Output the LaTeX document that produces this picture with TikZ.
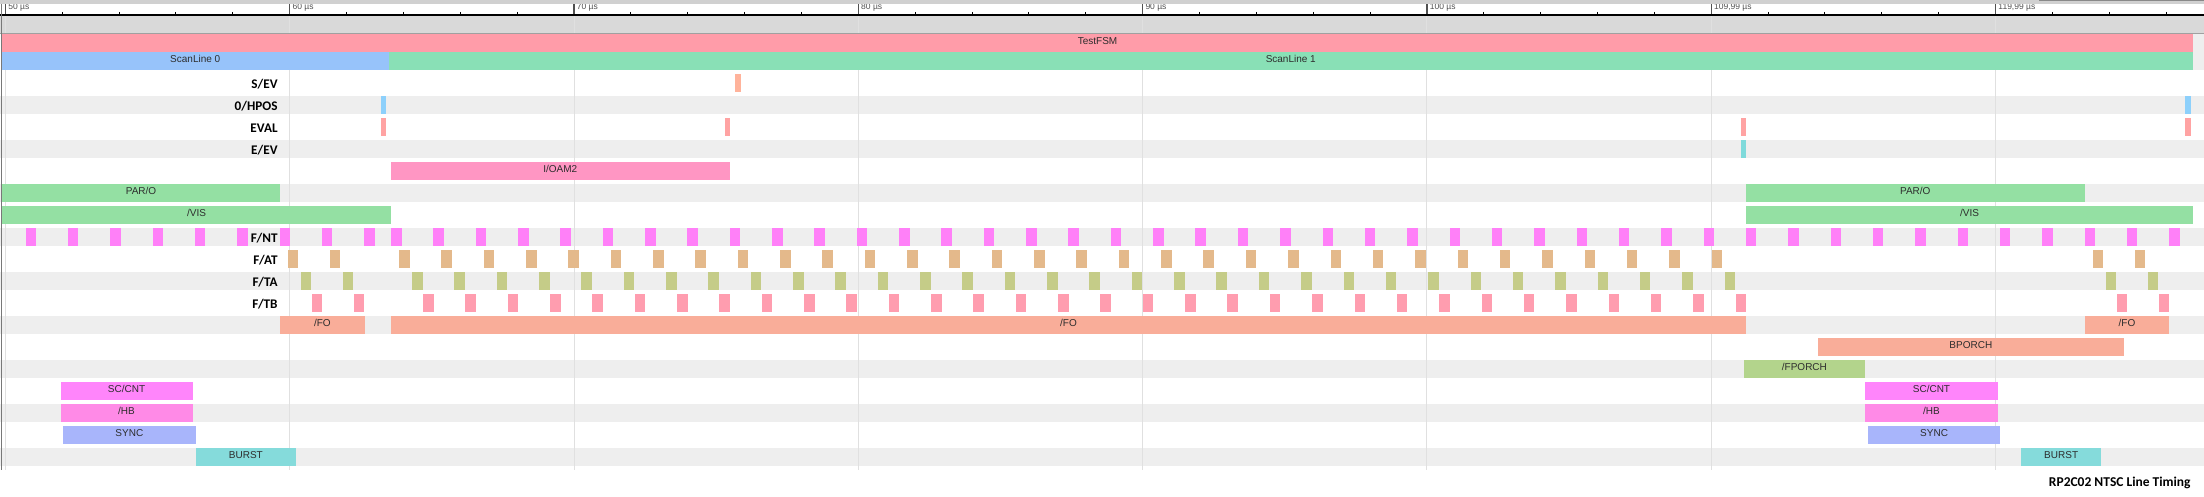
\documentclass[tikz,border=0pt]{standalone}
\usepackage{fontspec}
\usepackage{tikz}
\usetikzlibrary{positioning}
\newfontfamily\rowfont{Carlito}
\newfontfamily\barfont{Liberation Sans}
\definecolor{TopGray}{RGB}{208,208,208}
\definecolor{ScrollGray}{RGB}{136,136,136}
\definecolor{HeadGray}{RGB}{217,217,217}
\definecolor{HeadLine}{RGB}{160,160,160}
\definecolor{GridGray}{RGB}{224,224,224}
\definecolor{Stripe}{RGB}{238,238,238}
\definecolor{BorderGray}{RGB}{120,120,120}
\definecolor{TickText}{RGB}{80,80,80}
\definecolor{BarText}{RGB}{45,45,45}
\definecolor{FsmPink}{RGB}{255,156,169}
\definecolor{LineBlue}{RGB}{151,195,250}
\definecolor{LineGreen}{RGB}{137,224,182}
\definecolor{SevOrange}{RGB}{255,179,155}
\definecolor{HposBlue}{RGB}{141,208,251}
\definecolor{EvalRed}{RGB}{255,163,163}
\definecolor{EevCyan}{RGB}{127,218,219}
\definecolor{OamPink}{RGB}{255,150,195}
\definecolor{VisGreen}{RGB}{148,224,163}
\definecolor{NtMagenta}{RGB}{255,128,248}
\definecolor{AtTan}{RGB}{228,185,139}
\definecolor{TaOlive}{RGB}{197,204,136}
\definecolor{TbPink}{RGB}{255,157,175}
\definecolor{FoSalmon}{RGB}{249,173,153}
\definecolor{PorchGreen}{RGB}{179,212,140}
\definecolor{CntMagenta}{RGB}{255,133,251}
\definecolor{HbMagenta}{RGB}{255,138,231}
\definecolor{SyncBlue}{RGB}{168,181,251}
\definecolor{BurstCyan}{RGB}{133,219,219}
\tikzset{
  bartext/.style={font=\barfont\fontsize{5}{6}\selectfont, text=BarText, inner sep=0pt, anchor=base},
  rowlabel/.style={font=\rowfont\bfseries\fontsize{6.6}{8}\selectfont, inner sep=0pt, anchor=base east},
  ticklabel/.style={font=\barfont\fontsize{4.25}{5}\selectfont, text=TickText, inner sep=0pt, anchor=base west},
  gridline/.style={draw=GridGray, line width=0.5pt},
}
% bar with centred label: x1, x2, top, colour, name, text
\newcommand\sigbar[6]{%
  \fill[#4] (#1,#3) rectangle (#2,#3+18);
  \node[bartext] (#5) at ({(#1+#2)/2},#3+10.7) {#6};}
\begin{document}
\begin{tikzpicture}[x=0.5pt, y=-0.5pt]
\useasboundingbox (0,0) rectangle (2204,497);
\fill[white] (0,0) rectangle (2204,497);

% row stripes
\foreach \i in {1,3,...,17}
  \fill[Stripe] (0,74+22*\i) rectangle (2204,92+22*\i);
\fill[Stripe] (2193,33) rectangle (2204,70);
\fill[HeadGray] (0,15) rectangle (2204,33.3);

% grid
\foreach \i in {0,...,7}
  \draw[gridline] (5.4+284.3*\i,15) -- (5.4+284.3*\i,470);

% ruler
\fill[white] (0,4) rectangle (2204,15);
\foreach \i/\t in {0/50,1/60,2/70,3/80,4/90,5/100,6/{109,99},7/{119,99}}{
  \node[ticklabel] (tick\i) at (5.4+284.3*\i+2.5,9.6) {\t~µs};
  \draw[TickText, line width=0.6pt] (5.4+284.3*\i,4) -- (5.4+284.3*\i,15);
  \foreach \j in {1,...,4}
    \draw[black, line width=0.5pt] (5.4+284.3*\i+56.86*\j,12) -- (5.4+284.3*\i+56.86*\j,15);
}
\fill[TopGray] (0,0) rectangle (2204,4);
\fill[ScrollGray] (2039,0) rectangle (2204,1.5);
\draw[black, line width=0.6pt] (0,15) -- (2204,15);
\draw[HeadLine, line width=0.6pt] (0,33.3) -- (2204,33.3);
\draw[BorderGray, line width=0.6pt] (1.5,4) -- (1.5,470);

% state machine and scan lines
\sigbar{2}{2193}{33.6}{FsmPink}{fsm}{TestFSM}
\sigbar{2}{388.5}{51.8}{LineBlue}{line0}{ScanLine 0}
\sigbar{388.5}{2193}{51.8}{LineGreen}{line1}{ScanLine 1}

% single pulses
\fill[SevOrange] (734.8,74) rectangle (740.6,92);
\fill[HposBlue] (381,96) rectangle (386,114);
\fill[HposBlue] (2185.3,96) rectangle (2190.7,114);
\foreach \x in {381,724.5,1741,2185.3}
  \fill[EvalRed] (\x,118) rectangle ++(5.4,18);
\fill[EevCyan] (1741,140) rectangle (1746,158);

\sigbar{391}{729.5}{162}{OamPink}{oam}{I/OAM2}
\sigbar{2}{280.1}{184}{VisGreen}{paro0}{PAR/O}
\sigbar{1746}{2084.6}{184}{VisGreen}{paro1}{PAR/O}
\sigbar{2}{391}{206}{VisGreen}{vis0}{/VIS}
\sigbar{1746}{2193}{206}{VisGreen}{vis1}{/VIS}

% fetch pulses
\foreach \k in {0,...,42}
  \fill[NtMagenta] (391+42.34*\k,228) rectangle ++(10.5,18);
\foreach \k in {34,...,42}
  \fill[NtMagenta] (-1414+42.34*\k,228) rectangle ++(10.5,18);
\foreach \k in {0,...,31}{
  \fill[AtTan] (399+42.34*\k,250) rectangle ++(10.5,18);
  \fill[TaOlive] (412+42.34*\k,272) rectangle ++(10.5,18);
  \fill[TbPink] (423+42.34*\k,294) rectangle ++(10.5,18);
}
\foreach \b in {-1414,391}
  \foreach \k in {40,41}{
    \fill[AtTan] (\b+8+42.34*\k,250) rectangle ++(10.5,18);
    \fill[TaOlive] (\b+21+42.34*\k,272) rectangle ++(10.5,18);
    \fill[TbPink] (\b+32+42.34*\k,294) rectangle ++(10.5,18);
  }

\sigbar{280.1}{364.7}{316}{FoSalmon}{fo0}{/FO}
\sigbar{391}{1746}{316}{FoSalmon}{fo1}{/FO}
\sigbar{2084.6}{2169.4}{316}{FoSalmon}{fo2}{/FO}
\sigbar{1817.5}{2124.2}{338}{FoSalmon}{bporch}{BPORCH}
\sigbar{1743.6}{1865.2}{360}{PorchGreen}{fporch}{/FPORCH}
\sigbar{60.5}{192.5}{382}{CntMagenta}{sccnt0}{SC/CNT}
\sigbar{1865.2}{1997.7}{382}{CntMagenta}{sccnt1}{SC/CNT}
\sigbar{60.5}{192.5}{404}{HbMagenta}{hb0}{/HB}
\sigbar{1865.2}{1997.7}{404}{HbMagenta}{hb1}{/HB}
\sigbar{63.1}{195.6}{426}{SyncBlue}{sync0}{SYNC}
\sigbar{1868}{2000.2}{426}{SyncBlue}{sync1}{SYNC}
\sigbar{195.6}{296.2}{448}{BurstCyan}{burst0}{BURST}
\sigbar{2021.4}{2100.9}{448}{BurstCyan}{burst1}{BURST}

% row labels
\node[rowlabel] (sev) at (278,74+14.3) {S/EV};
\node[rowlabel] (hpos) at (278,96+14.3) {0/HPOS};
\node[rowlabel] (eval) at (278,118+14.3) {EVAL};
\node[rowlabel] (eev) at (278,140+14.3) {E/EV};
\node[rowlabel] (fnt) at (278,228+14.3) {F/NT};
\node[rowlabel] (fat) at (278,250+14.3) {F/AT};
\node[rowlabel] (fta) at (278,272+14.3) {F/TA};
\node[rowlabel] (ftb) at (278,294+14.3) {F/TB};

\node[rowlabel, font=\rowfont\bfseries\fontsize{6.75}{8}\selectfont] (title) at (2191,486.7) {RP2C02 NTSC Line Timing};
\end{tikzpicture}
\end{document}
